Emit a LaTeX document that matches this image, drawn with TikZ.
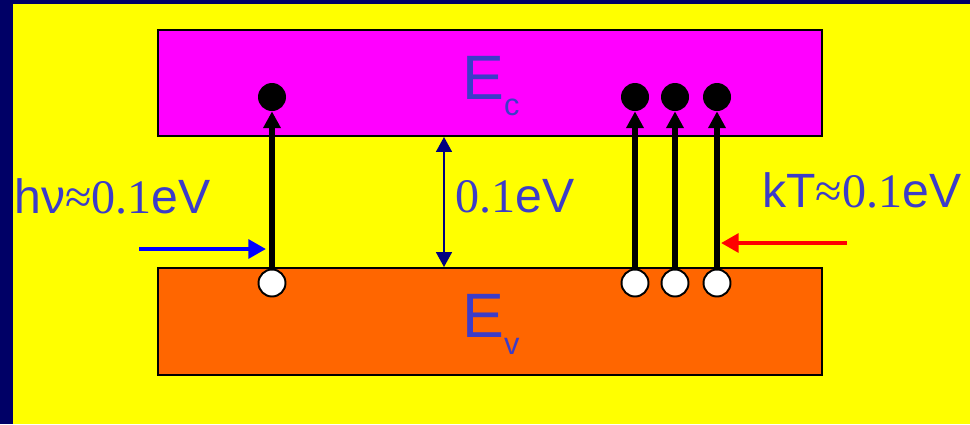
\documentclass[tikz,border=0pt]{standalone}
\usepackage{fontspec}
\setmainfont{Liberation Sans}
\newfontfamily\numfont{Liberation Serif}
\usepackage{xcolor}
\usepackage{tikz}
\usetikzlibrary{positioning,arrows.meta}
\definecolor{slidenavy}{RGB}{0,0,102}
\definecolor{slideyellow}{RGB}{255,255,0}
\definecolor{bandpink}{RGB}{255,0,255}
\definecolor{bandorange}{RGB}{255,102,0}
\definecolor{labelblue}{RGB}{60,60,200}
\definecolor{gapnavy}{RGB}{0,0,128}
\begin{document}
\begin{tikzpicture}[
    x=0.02cm, y=-0.02cm,
    band/.style={draw, line width=1.1pt, minimum width=13.28cm, inner sep=0pt},
    elec/.style={circle, fill=black, minimum size=0.56cm, inner sep=0pt},
    hole/.style={circle, draw, line width=1.1pt, fill=white, minimum size=0.54cm, inner sep=0pt},
    excite/.style={-{Triangle[width=9.6pt,length=9.6pt]}, line width=2.9pt},
    photon/.style={-{Triangle[width=10.5pt,length=10pt]}, line width=2.8pt},
    gap/.style={{Triangle[width=9pt,length=8.5pt]}-{Triangle[width=9pt,length=8.5pt]}, line width=1.1pt, gapnavy},
    lbl/.style={text=labelblue, font=\fontsize{27.4}{31}\selectfont, inner sep=0pt, anchor=base west}
  ]
    \fill[slidenavy] (0,0) rectangle (970,424);
    \fill[slideyellow] (13,4) rectangle (970,424);
    \useasboundingbox (0,0) rectangle (970,424);

    \node[band, fill=bandpink, minimum height=2.12cm] (cb) at (490,83) {};
    \node[band, fill=bandorange, minimum height=2.14cm] (vb) at (490,321.5) {};
    \node[text=labelblue, inner sep=0pt] (ec) at (491,86)
      {\fontsize{35.7}{40}\selectfont E\raisebox{-9.6pt}{\fontsize{17.5}{20}\selectfont c}};
    \node[text=labelblue, inner sep=0pt] (ev) at (491,324)
      {\fontsize{35.7}{40}\selectfont E\raisebox{-9.6pt}{\fontsize{17.5}{20}\selectfont v}};

    \node[elec] (e1) at (272,97) {};
    \node[elec] (e2) at (635,97) {};
    \node[elec] (e3) at (675,97) {};
    \node[elec] (e4) at (717,97) {};
    \node[hole] (h1) at (272,283) {};
    \node[hole] (h2) at (635,283) {};
    \node[hole] (h3) at (675,283) {};
    \node[hole] (h4) at (717,283) {};

    \draw[excite] (h1) -- (e1);
    \draw[excite] (h2) -- (e2);
    \draw[excite] (h3) -- (e3);
    \draw[excite] (h4) -- (e4);

    \coordinate (hvfrom) at (139,249);
    \coordinate (hvto) at (266,249);
    \coordinate (ktfrom) at (847,243);
    \coordinate (ktto) at (721,243);
    \draw[photon, blue] (hvfrom) -- (hvto);
    \draw[photon, red] (ktfrom) -- (ktto);

    \coordinate (gapx) at (444,0);
    \draw[gap] (cb.south -| gapx) -- (vb.north -| gapx);

    \node[lbl] (hv) at (14,213) {hν{\numfont ≈0.1}eV};
    \node[lbl] (gapval) at (455,212) {{\numfont 0.1}eV};
    \node[lbl] (kt) at (762,207) {kT{\numfont ≈0.1}eV};
  \end{tikzpicture}
\end{document}
